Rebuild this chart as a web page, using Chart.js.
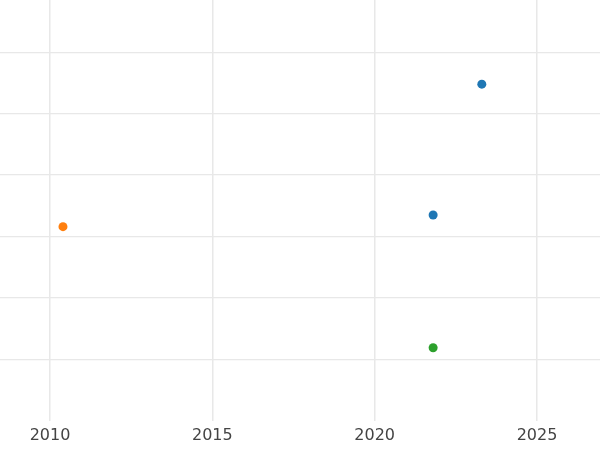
<!DOCTYPE html>
<html>
<head>
<meta charset="utf-8">
<script src="https://cdn.jsdelivr.net/npm/chart.js@4"></script>
<style>
  html, body { margin: 0; padding: 0; background: #fff; }
  #wrap { width: 600px; height: 450px; }
</style>
</head>
<body>
<div id="wrap"><canvas id="chart"></canvas></div>
<script>
const xTicks = [2010, 2015, 2020, 2025];
const blueX = [2023.3, 2021.8];
const blueY = [5.48, 3.35];
const orangeX = [2010.4];
const orangeY = [3.16];
const greenX = [2021.8];
const greenY = [1.19];

const toPoints = (xs, ys) => xs.map((x, i) => ({ x, y: ys[i] }));

new Chart(document.getElementById('chart'), {
  type: 'scatter',
  data: {
    datasets: [
      { data: toPoints(blueX, blueY), backgroundColor: '#1f77b4', borderWidth: 0, pointRadius: 4.5 },
      { data: toPoints(orangeX, orangeY), backgroundColor: '#ff7f0e', borderWidth: 0, pointRadius: 4.5 },
      { data: toPoints(greenX, greenY), backgroundColor: '#2ca02c', borderWidth: 0, pointRadius: 4.5 },
    ],
  },
  options: {
    responsive: true,
    maintainAspectRatio: false,
    animation: false,
    layout: { padding: 0, autoPadding: false },
    plugins: { legend: { display: false }, tooltip: { enabled: false } },
    scales: {
      x: {
        min: 2008.46,
        max: 2026.94,
        afterBuildTicks: (axis) => { axis.ticks = xTicks.map((v) => ({ value: v })); },
        grid: { color: '#e8e8e8', lineWidth: 1.5, drawTicks: false },
        border: { display: false },
        ticks: { color: '#444', font: { size: 16, family: 'DejaVu Sans' }, padding: 5, callback: (v) => String(v) },
      },
      y: {
        min: 0,
        max: 6.85,
        ticks: { display: false, stepSize: 1 },
        grid: {
          color: (ctx) => (ctx.tick && ctx.tick.value > 0 && ctx.tick.value < 6.85 ? '#e8e8e8' : 'rgba(0,0,0,0)'),
          lineWidth: 1.2,
          drawTicks: false,
        },
        border: { display: false },
        afterFit: (axis) => { axis.width = 0; },
      },
    },
  },
});
</script>
</body>
</html>
